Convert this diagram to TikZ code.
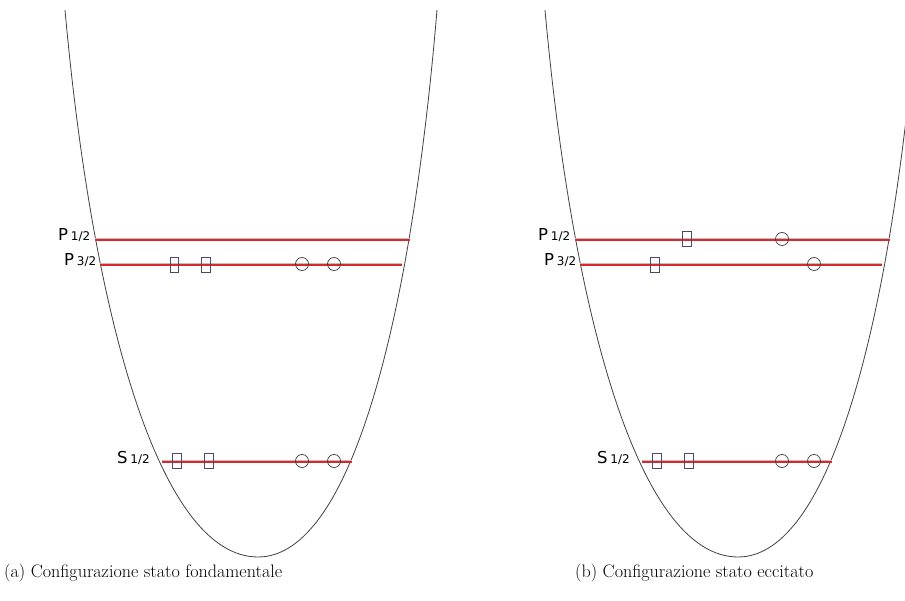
\documentclass[tikz,border=0pt]{standalone}
\usepackage{fontspec}
\newfontfamily\lblfont{DejaVu Sans}
\definecolor{boxcol}{RGB}{75,75,105}
\definecolor{levcol}{RGB}{220,40,40}
\begin{document}
\begin{tikzpicture}[x=1pt,y=-1pt,
  well/.style={draw=black!75, line width=0.8pt},
  levgray/.style={draw=gray!50, line width=0.6pt},
  levred/.style={draw=levcol, line width=1.3pt},
  box/.style={draw=boxcol, line width=0.7pt, rectangle, minimum width=8.5pt, minimum height=15pt, inner sep=0pt},
  ring/.style={draw=black!75, line width=0.7pt, circle, minimum size=13pt, inner sep=0pt},
  lvlbl/.style={anchor=base west, inner sep=0pt, font=\lblfont\fontsize{16.5}{18}\selectfont},
  caption/.style={anchor=base west, inner sep=0pt, font=\fontsize{18.1}{22}\selectfont}]
\useasboundingbox (0,0) rectangle (905,601);

\foreach \sh/\tag in {0/a,480/b}{
\begin{scope}[xshift=\sh pt]
  \coordinate (tl\tag) at (65,10);
  \coordinate (bt\tag) at (258,557);
  \coordinate (tr\tag) at (437,10);
  \draw[well] (tl\tag) .. controls (92,310) and (158,557) .. (bt\tag)
              .. controls (353,557) and (412,310) .. (tr\tag);
  \coordinate (pal\tag) at (95,240);
  \coordinate (par\tag) at (410,240);
  \coordinate (pbl\tag) at (100,265);
  \coordinate (pbr\tag) at (402,265);
  \coordinate (sal\tag) at (162,462);
  \coordinate (sar\tag) at (352,462);
  \draw[levgray] ([yshift=1.3pt]pal\tag) -- ([yshift=1.3pt]par\tag);
  \draw[levgray] ([yshift=1.3pt]pbl\tag) -- ([yshift=1.3pt]pbr\tag);
  \draw[levgray] ([yshift=1.3pt]sal\tag) -- ([yshift=1.3pt]sar\tag);
  \draw[levred] (pal\tag) -- (par\tag);
  \draw[levred] (pbl\tag) -- (pbr\tag);
  \draw[levred] (sal\tag) -- (sar\tag);
  \node[lvlbl] (lp1\tag) at (58,241) {P\,{\fontsize{12}{13}\selectfont 1/2}};
  \node[lvlbl] (lp3\tag) at (64,266) {P\,{\fontsize{12}{13}\selectfont 3/2}};
  \node[lvlbl] (ls1\tag) at (117,464) {S\,{\fontsize{12}{13}\selectfont 1/2}};
  \node[box] (sa\tag) at (177,461) {};
  \node[box] (sb\tag) at (209,461) {};
  \node[ring] (sc\tag) at (302,461) {};
  \node[ring] (sd\tag) at (334,461) {};
\end{scope}
}

% panel (a): ground state
\node[box] (pa) at (174.5,264.5) {};
\node[box] (pb) at (206,264.5) {};
\node[ring] (pc) at (302,264) {};
\node[ring] (pd) at (334,264) {};

% panel (b): excited state
\node[box] (qa) at (687,239) {};
\node[ring] (qb) at (782,239) {};
\node[box] (qc) at (655,264.5) {};
\node[ring] (qd) at (814,264) {};

\node[caption] (capa) at (4,577) {(a) Configurazione stato fondamentale};
\node[caption] (capb) at (575,577) {(b) Configurazione stato eccitato};
\end{tikzpicture}
\end{document}
